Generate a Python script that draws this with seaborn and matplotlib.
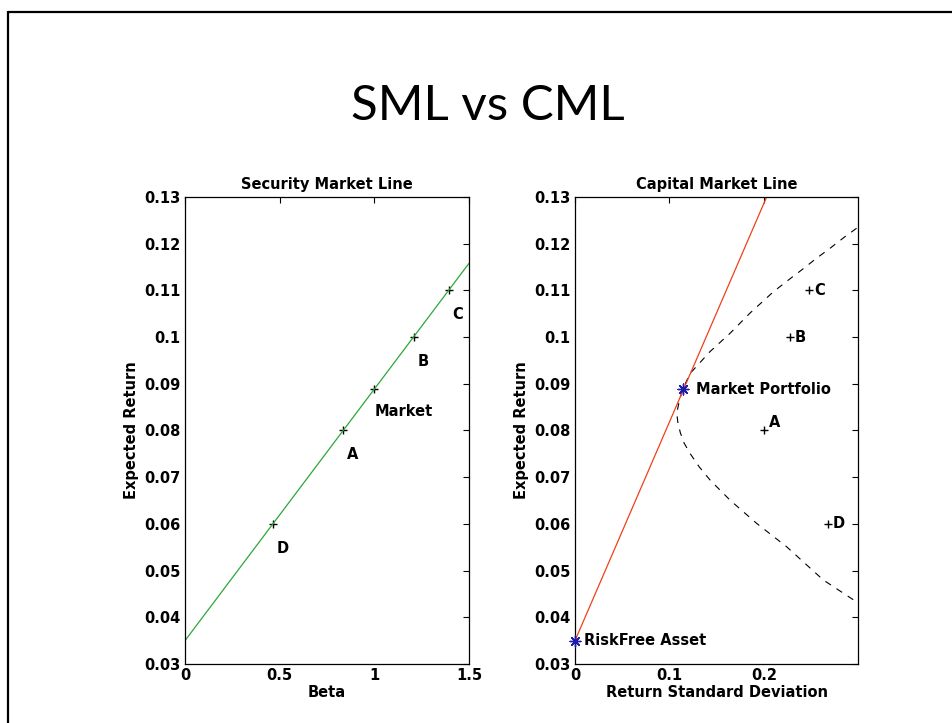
import matplotlib
matplotlib.use("Agg")
import matplotlib.pyplot as plt
import seaborn as sns
import pandas as pd
from matplotlib.lines import Line2D

sns.set_style("white")
plt.rcParams['font.family'] = ['DejaVu Sans']
plt.rcParams['text.color'] = 'black'
plt.rcParams['axes.labelcolor'] = 'black'
plt.rcParams['xtick.color'] = 'black'
plt.rcParams['ytick.color'] = 'black'

# ---------------- data ----------------
asset_names = ["A", "B", "C", "D"]
asset_beta = [0.836, 1.208, 1.394, 0.465]
asset_return = [0.08, 0.10, 0.11, 0.06]
asset_sigma = [0.200, 0.2275, 0.248, 0.2674]

market_beta = 1.0
market_sigma = 0.114
market_return = 0.0888
riskfree_return = 0.035

sml_beta = [0.0, 1.5]
sml_return = [0.035, 0.1158]
cml_sigma = [0.0, 0.2028]
cml_return = [0.035, 0.13]

frontier_sigma = [0.298, 0.2857, 0.2698, 0.2557, 0.240, 0.2257, 0.2099, 0.185,
                  0.164, 0.1429, 0.1217, 0.114, 0.1105, 0.1085, 0.108, 0.1088,
                  0.1115, 0.1155, 0.1217, 0.1315, 0.1429, 0.164, 0.1923, 0.224,
                  0.2627, 0.298]
frontier_return = [0.1233, 0.1215, 0.1190, 0.1169, 0.1144, 0.1122, 0.1097, 0.1051,
                   0.1008, 0.0969, 0.0922, 0.0888, 0.0865, 0.0845, 0.0832, 0.0818,
                   0.0795, 0.0773, 0.0751, 0.0722, 0.0694, 0.0651, 0.0601, 0.0551,
                   0.0480, 0.0433]

sml_ticks_x = [0, 0.5, 1, 1.5]
sml_ticklabels_x = ["0", "0.5", "1", "1.5"]
cml_ticks_x = [0, 0.1, 0.2]
cml_ticklabels_x = ["0", "0.1", "0.2"]
y_ticks = [0.03, 0.04, 0.05, 0.06, 0.07, 0.08, 0.09, 0.10, 0.11, 0.12, 0.13]
y_ticklabels = ["0.03", "0.04", "0.05", "0.06", "0.07", "0.08", "0.09", "0.1",
                "0.11", "0.12", "0.13"]

GREEN = "#2aa83a"
RED = "#f0401a"
BLUE = "#1c1ca8"
FS = 10.5

fig = plt.figure(figsize=(9.52, 7.23), dpi=100)

# slide frame
fig.add_artist(Line2D([8 / 952, 8 / 952], [0, 1 - 12 / 723], transform=fig.transFigure,
                      color="black", lw=1.6))
fig.add_artist(Line2D([8 / 952, 1], [1 - 12 / 723, 1 - 12 / 723], transform=fig.transFigure,
                      color="black", lw=1.6))

fig.text(488 / 952, 1 - 106 / 723, "SML vs CML", ha="center", va="center",
         fontsize=35.5, family=["Lato", "DejaVu Sans"], color="black")

axL = fig.add_axes([185 / 952, 1 - 664 / 723, 284 / 952, 467 / 723])
axR = fig.add_axes([575 / 952, 1 - 664 / 723, 283 / 952, 467 / 723])

# ---------- SML ----------
sns.lineplot(x=sml_beta, y=sml_return, ax=axL, color=GREEN, lw=0.9)
sml_pts = pd.DataFrame({"beta": asset_beta + [market_beta],
                        "ret": asset_return + [market_return]})
sns.scatterplot(data=sml_pts, x="beta", y="ret", ax=axL, marker="+", s=40,
                color="black", linewidth=1.0)
for n, b, r in zip(asset_names, asset_beta, asset_return):
    axL.text(b + 0.02, r - 0.0052, n, ha="left", va="center", fontsize=FS,
             fontweight="bold")
axL.text(market_beta + 0.0, market_return - 0.0048, "Market", ha="left", va="center",
         fontsize=FS, fontweight="bold")
axL.set_xlim(0, 1.5)
axL.set_xticks(sml_ticks_x)
axL.set_xticklabels(sml_ticklabels_x)
axL.set_xlabel("Beta", fontsize=FS, fontweight="bold", labelpad=1)
axL.set_title("Security Market Line", fontsize=FS, fontweight="bold", pad=6)

# ---------- CML ----------
sns.lineplot(x=frontier_sigma, y=frontier_return, ax=axR, color="black", lw=0.8,
             sort=False, estimator=None, linestyle=(0, (6, 6)))
sns.lineplot(x=cml_sigma, y=cml_return, ax=axR, color=RED, lw=0.9)
sns.scatterplot(x=asset_sigma, y=asset_return, ax=axR, marker="+", s=40,
                color="black", linewidth=1.0)
label_dy = [0.0017, 0.0, 0.0, 0.0]
for n, s, r, dy in zip(asset_names, asset_sigma, asset_return, label_dy):
    axR.text(s + 0.005, r + dy, n, ha="left", va="center", fontsize=FS,
             fontweight="bold")
sns.scatterplot(x=[market_sigma, 0.0], y=[market_return, riskfree_return], ax=axR,
                marker=(8, 2, 0), s=60, color=BLUE, linewidth=1.0, clip_on=False,
                zorder=5)
axR.text(market_sigma + 0.014, market_return, "Market Portfolio", ha="left",
         va="center", fontsize=FS, fontweight="bold")
axR.text(0.0095, riskfree_return, "RiskFree Asset", ha="left", va="center",
         fontsize=FS, fontweight="bold")
axR.set_xlim(0, 0.2995)
axR.set_xticks(cml_ticks_x)
axR.set_xticklabels(cml_ticklabels_x)
axR.set_xlabel("Return Standard Deviation", fontsize=FS, fontweight="bold",
               labelpad=1)
axR.set_title("Capital Market Line", fontsize=FS, fontweight="bold", pad=6)

for ax in (axL, axR):
    ax.set_ylim(0.03, 0.13)
    ax.set_yticks(y_ticks)
    ax.set_yticklabels(y_ticklabels)
    ax.set_ylabel("Expected Return", fontsize=FS, fontweight="bold", labelpad=4)
    ax.tick_params(direction="in", length=4, width=0.8, top=True, right=True,
                   labelsize=FS, pad=3, colors="black")
    for lab in ax.get_xticklabels() + ax.get_yticklabels():
        lab.set_fontweight("bold")
    for sp in ax.spines.values():
        sp.set_visible(True)
        sp.set_color("black")
        sp.set_linewidth(0.9)
    if ax.get_legend():
        ax.get_legend().remove()

fig.savefig("out.png", dpi=100)
